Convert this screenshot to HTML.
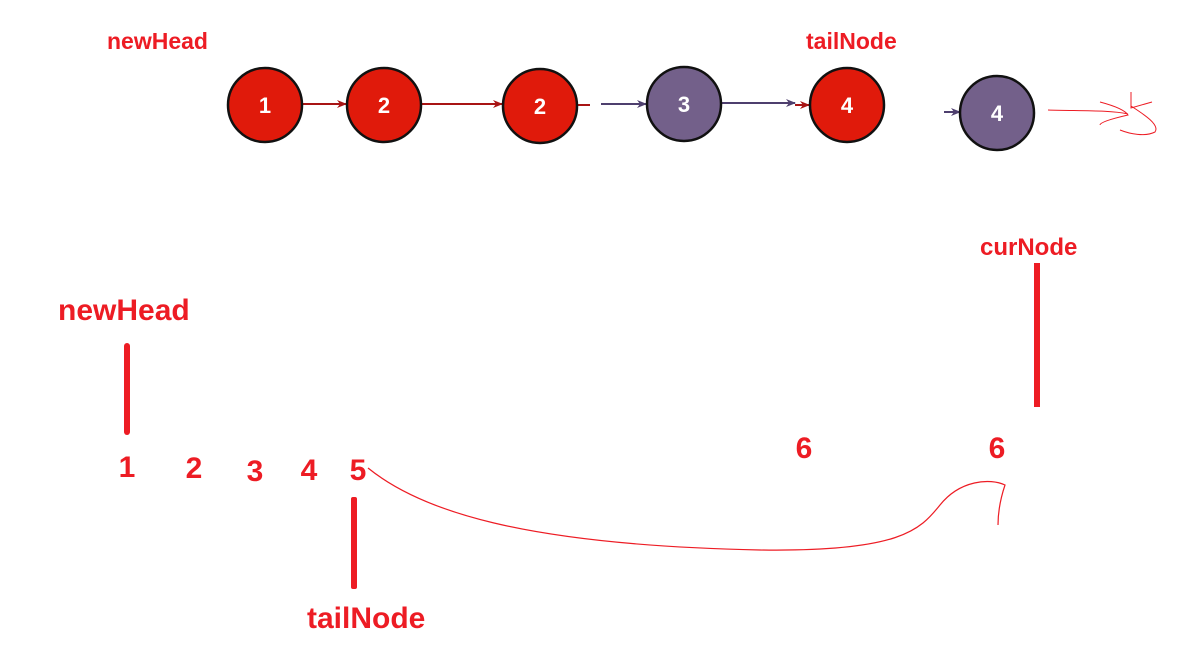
<!DOCTYPE html>
<html><head><meta charset="utf-8"><style>
html,body{margin:0;padding:0;background:#fff;}
svg{display:block;}
text{font-family:"Liberation Sans",sans-serif;font-weight:bold;}
</style></head><body>
<svg width="1189" height="647" viewBox="0 0 1189 647" xmlns="http://www.w3.org/2000/svg">
<defs>
<marker id="ar" markerWidth="10" markerHeight="10" refX="9" refY="5" orient="auto" markerUnits="userSpaceOnUse"><path d="M0,1 L10,5 L0,9 L3,5 Z" fill="#a81414"/></marker>
<marker id="ap" markerWidth="10" markerHeight="10" refX="9" refY="5" orient="auto" markerUnits="userSpaceOnUse"><path d="M0,1 L10,5 L0,9 L3,5 Z" fill="#4e3f6e"/></marker>
</defs>
<!-- top labels -->
<text x="107" y="49" font-size="23" fill="#ed1c24">newHead</text>
<text x="806" y="49" font-size="23" fill="#ed1c24">tailNode</text>
<!-- connectors -->
<line x1="302" y1="104" x2="346" y2="104" stroke="#a81414" stroke-width="2" marker-end="url(#ar)"/>
<line x1="422" y1="104" x2="502" y2="104" stroke="#a81414" stroke-width="2" marker-end="url(#ar)"/>
<line x1="578" y1="105" x2="590" y2="105" stroke="#a81414" stroke-width="2"/>
<line x1="601" y1="104" x2="646" y2="104" stroke="#4e3f6e" stroke-width="2" marker-end="url(#ap)"/>
<line x1="722" y1="103" x2="795" y2="103" stroke="#4e3f6e" stroke-width="2" marker-end="url(#ap)"/>
<line x1="795" y1="105" x2="809" y2="105" stroke="#a81414" stroke-width="2" marker-end="url(#ar)"/>
<path d="M944,112 L960,112" stroke="#4e3f6e" stroke-width="2" marker-end="url(#ap)"/>
<!-- circles -->
<g stroke="#111" stroke-width="2.5">
<circle cx="265" cy="105" r="37" fill="#e01a0b"/>
<circle cx="384" cy="105" r="37" fill="#e01a0b"/>
<circle cx="540" cy="106" r="37" fill="#e01a0b"/>
<circle cx="684" cy="104" r="37" fill="#73608a"/>
<circle cx="847" cy="105" r="37" fill="#e01a0b"/>
<circle cx="997" cy="113" r="37" fill="#73608a"/>
</g>
<g fill="#fff" font-size="22" text-anchor="middle">
<text x="265" y="113">1</text>
<text x="384" y="113">2</text>
<text x="540" y="114">2</text>
<text x="684" y="112">3</text>
<text x="847" y="113">4</text>
<text x="997" y="121">4</text>
</g>
<!-- scribble -->
<path d="M1048,110 C1080,111 1110,110 1128,114 M1100,102 C1115,106 1125,110 1128,115 C1115,118 1100,122 1100,125 M1131,92 L1131,108 L1152,102 M1131,106 C1145,115 1160,125 1155,132 C1145,137 1130,134 1120,130" fill="none" stroke="#ed1c24" stroke-width="1"/>
<!-- bottom -->
<text x="58" y="320" font-size="30" fill="#ed1c24">newHead</text>
<rect x="124" y="343" width="6" height="92" rx="3" fill="#ed1c24"/>
<g font-size="30" fill="#ed1c24" text-anchor="middle">
<text x="127" y="477">1</text>
<text x="194" y="478">2</text>
<text x="255" y="481">3</text>
<text x="309" y="480">4</text>
<text x="358" y="480">5</text>
<text x="804" y="458">6</text>
<text x="997" y="458">6</text>
</g>
<rect x="351" y="497" width="6" height="92" rx="2" fill="#ed1c24"/>
<text x="307" y="628" font-size="30" fill="#ed1c24">tailNode</text>
<text x="980" y="255" font-size="24" fill="#ed1c24">curNode</text>
<rect x="1034" y="263" width="6" height="144" fill="#ed1c24"/>
<path d="M368,468 C420,510 520,545 760,550 C900,552 920,530 940,505 C960,480 990,478 1005,485 C1000,500 998,512 998,525" fill="none" stroke="#ed1c24" stroke-width="1.2"/>
</svg>
</body></html>
